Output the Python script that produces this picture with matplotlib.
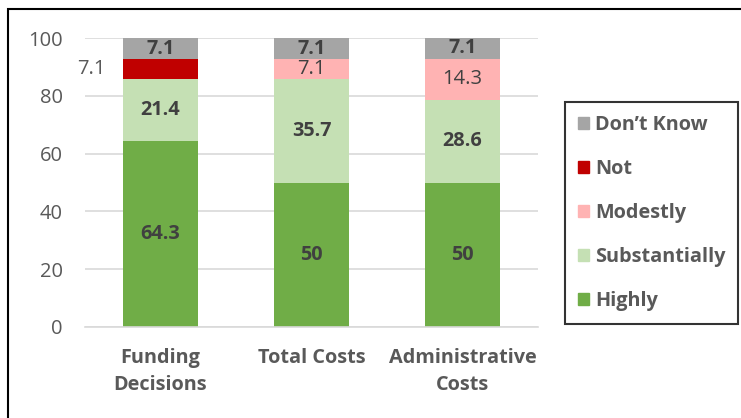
import matplotlib
matplotlib.use("Agg")
import matplotlib.pyplot as plt
import matplotlib.patches as mpatches
import numpy as np

plt.rcParams["font.family"] = ["Open Sans", "DejaVu Sans"]

categories = ["Funding\nDecisions", "Total Costs", "Administrative\nCosts"]
series = ["Highly", "Substantially", "Modestly", "Not", "Don\u2019t Know"]
highly = [64.3, 50, 50]
substantially = [21.4, 35.7, 28.6]
modestly = [0, 7.1, 14.3]
not_ = [7.1, 0, 0]
dont_know = [7.1, 7.1, 7.1]
values = [highly, substantially, modestly, not_, dont_know]

COLORS = ["#70AD47", "#C5E0B4", "#FFB3B3", "#C00000", "#A5A5A5"]
TXT = "#404040"
TICK = "#595959"
BFS = 14.3   # bold label size
RFS = 14.5   # regular label size

fig = plt.figure(figsize=(7.41, 4.18), dpi=100)
ax = fig.add_axes([85 / 741, 1 - 327 / 418, (538 - 85) / 741, (327 - 38) / 418])

x = np.arange(len(categories))
w = 0.5
bottom = np.zeros(len(categories))
for si, (name, vals) in enumerate(zip(series, values)):
    vals = np.array(vals, float)
    ax.bar(x, vals, w, bottom=bottom, color=COLORS[si], label=name, zorder=2)
    for i, v in enumerate(vals):
        if v <= 0:
            continue
        yc = bottom[i] + v / 2
        lab = f"{v:g}"
        if name == "Not":
            # label sits outside, left of the bar
            ax.annotate(lab, (x[i] - w / 2, yc), xytext=(-12, 0),
                        textcoords="offset points", ha="right", va="center",
                        fontsize=RFS, color=TICK)
        elif name == "Modestly":
            ax.text(x[i], yc, lab, ha="center", va="center", fontsize=RFS, color=TXT)
        else:
            ax.text(x[i], yc, lab, ha="center", va="center", fontsize=BFS,
                    color=TXT, fontweight="bold")
    bottom += vals

ax.set_xlim(-0.5, 2.5)
ax.set_ylim(0, 100)
ax.set_yticks(np.arange(0, 101, 20))
ax.yaxis.grid(True, color="#D9D9D9", lw=1.2, zorder=0)
ax.set_axisbelow(True)
for s in ["top", "right", "left"]:
    ax.spines[s].set_visible(False)
ax.spines["bottom"].set_color("#D9D9D9")
ax.spines["bottom"].set_linewidth(1.2)
ax.tick_params(axis="y", length=0, labelsize=RFS, labelcolor=TICK, pad=16)
ax.tick_params(axis="x", length=0, pad=15)
ax.set_xticks(x, categories, fontsize=BFS, fontweight="bold", color=TICK)
for t in ax.get_xticklabels():
    t.set_linespacing(1.45)

handles = [mpatches.Patch(color=COLORS[i]) for i in range(len(series))][::-1]
leg = fig.legend(handles, series[::-1], loc="center left",
                 bbox_to_anchor=(565 / 741, 1 - 213 / 418),
                 bbox_transform=fig.transFigure, frameon=True, fancybox=False,
                 prop={"size": BFS, "weight": "bold"}, labelspacing=1.2,
                 handlelength=0.55, handleheight=0.55, handletextpad=0.3,
                 borderpad=0.65, borderaxespad=0)
leg.get_frame().set_edgecolor("black")
leg.get_frame().set_linewidth(1.5)
for t in leg.get_texts():
    t.set_color(TICK)

# outer chart border
fig.patches.append(mpatches.Rectangle((8 / 741, -0.1), 1.2, 1 - 9 / 418 + 0.1,
                                      transform=fig.transFigure, fill=False,
                                      edgecolor="black", lw=1.5))

fig.savefig("out.png", dpi=100)
